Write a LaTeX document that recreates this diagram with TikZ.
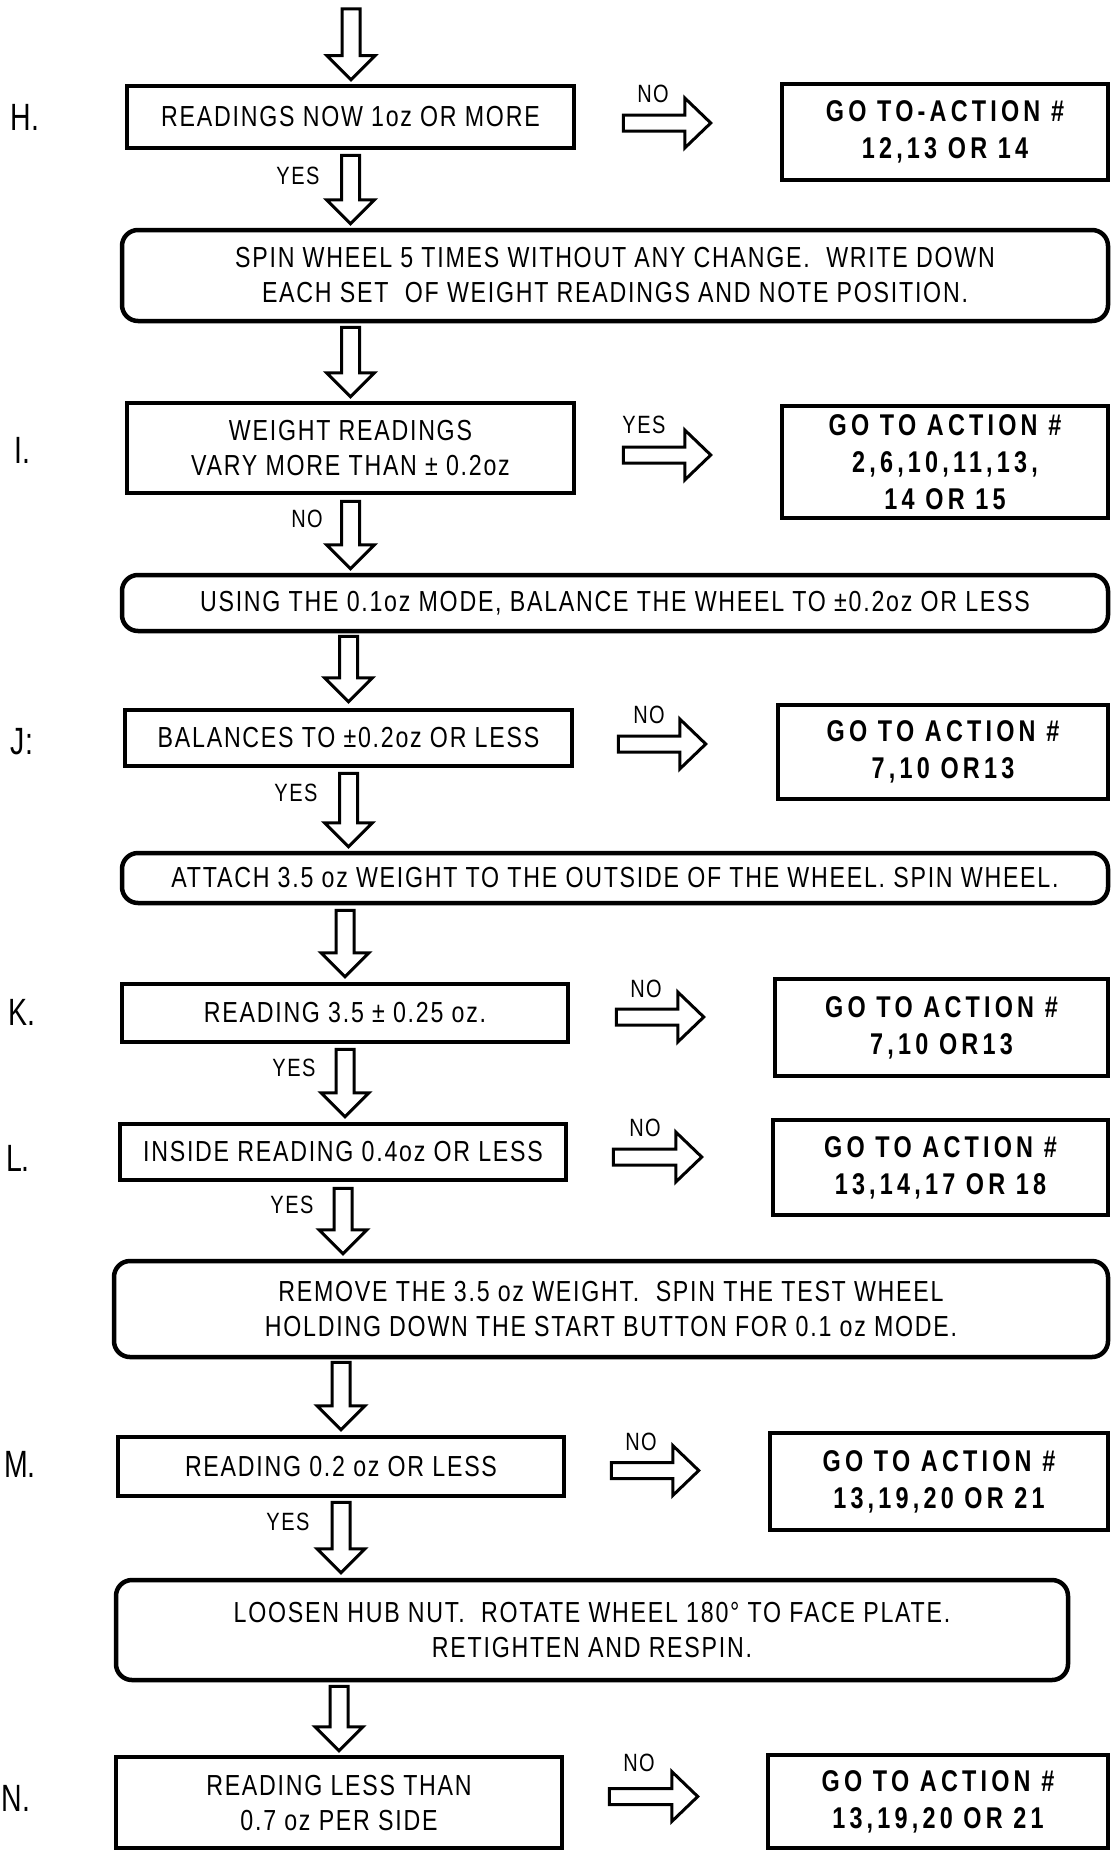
\documentclass[tikz,border=0pt]{standalone}
\usepackage{fontspec}
\setmainfont{Liberation Sans}[FakeStretch=0.8,LetterSpace=6]
\newfontfamily\actfont{Liberation Sans}[FakeStretch=0.78,LetterSpace=14]
\newfontfamily\rowfont{Liberation Sans}[FakeStretch=0.75]
\usetikzlibrary{calc}

\tikzset{
  test/.style={draw,line width=4.5pt,inner sep=0pt,align=center,font=\fontsize{29}{35}\selectfont},
  stepbox/.style={draw,line width=4.5pt,rounded corners=16pt,inner sep=0pt,align=center,font=\fontsize{29}{35}\selectfont},
  actionbox/.style={draw,line width=4.5pt,inner sep=0pt,align=center,font=\actfont\bfseries\fontsize{30}{37}\selectfont},
  answer/.style={font=\fontsize{25}{25}\selectfont},
  rowlabel/.style={font=\rowfont\fontsize{38}{38}\selectfont},
  flowline/.style={line width=3pt,line join=miter}
}

% hollow block arrows: #1 start, #2 end
\newcommand{\downflow}[2]{%
  \draw[flowline] let \p1=(#1), \p2=(#2) in
    (\x1-9pt,\y1) -- (\x1-9pt,\y2+24pt) -- (\x1-24pt,\y2+24pt) -- (\x1,\y2)
    -- (\x1+24pt,\y2+24pt) -- (\x1+9pt,\y2+24pt) -- (\x1+9pt,\y1) -- cycle;}
\newcommand{\rightflow}[2]{%
  \draw[flowline] let \p1=(#1), \p2=(#2) in
    (\x1,\y1+8pt) -- (\x2-26pt,\y1+8pt) -- (\x2-26pt,\y1+25pt) -- (\x2,\y1)
    -- (\x2-26pt,\y1-25pt) -- (\x2-26pt,\y1-8pt) -- (\x1,\y1-8pt) -- cycle;}

\begin{document}
\begin{tikzpicture}[x=1pt,y=-1pt]
\fill[white] (0,0) rectangle (1112,1852);
\useasboundingbox (0,0) rectangle (1112,1852);

\coordinate (entry) at (351,9);

% H
\node[rowlabel] (labH) at (25,117) {H.};
\node[test,minimum width=447pt,minimum height=62pt] (H) at (350.5,117) {READINGS NOW 1oz OR MORE};
\node[actionbox,minimum width=326pt,minimum height=96pt] (Hact) at (945,132) {GO TO-ACTION \#\\12,13 OR 14};
\node[answer] (Hno) at (653,94) {NO};
\node[answer] (Hyes) at (298,176) {YES};
\node[stepbox,minimum width=986pt,minimum height=91pt] (spin) at (615,275.5) {SPIN WHEEL 5 TIMES WITHOUT ANY CHANGE.\ \ WRITE DOWN\\EACH SET\ \ OF WEIGHT READINGS AND NOTE POSITION.};

% I
\node[rowlabel] (labI) at (22,450) {I.};
\node[test,minimum width=447pt,minimum height=90pt] (I) at (350.5,448) {WEIGHT READINGS\\VARY MORE THAN ± 0.2oz};
\node[actionbox,minimum width=326pt,minimum height=112pt] (Iact) at (945,462) {GO TO ACTION \#\\2,6,10,11,13,\\14 OR 15};
\node[answer] (Iyes) at (644,425) {YES};
\node[answer] (Ino) at (307,519) {NO};
\node[stepbox,minimum width=986pt,minimum height=56pt] (using) at (615,603) {USING THE 0.1oz MODE, BALANCE THE WHEEL TO ±0.2oz OR LESS};

% J
\node[rowlabel] (labJ) at (22,742) {J:};
\node[test,minimum width=447pt,minimum height=56pt] (J) at (348.5,738) {BALANCES TO ±0.2oz OR LESS};
\node[actionbox,minimum width=330pt,minimum height=94pt] (Jact) at (943,752) {GO TO ACTION \#\\7,10 OR13};
\node[answer] (Jno) at (649,715) {NO};
\node[answer] (Jyes) at (296,793) {YES};
\node[stepbox,minimum width=986pt,minimum height=50pt] (attach) at (615,878) {ATTACH 3.5 oz WEIGHT TO THE OUTSIDE OF THE WHEEL. SPIN WHEEL.};

% K
\node[rowlabel] (labK) at (22,1012) {K.};
\node[test,minimum width=446pt,minimum height=58pt] (K) at (345,1013) {READING 3.5 ± 0.25 oz.};
\node[actionbox,minimum width=333pt,minimum height=97pt] (Kact) at (941.5,1027.5) {GO TO ACTION \#\\7,10 OR13};
\node[answer] (Kno) at (646,989) {NO};
\node[answer] (Kyes) at (294,1068) {YES};

% L
\node[rowlabel] (labL) at (18,1158) {L.};
\node[test,minimum width=446pt,minimum height=56pt] (L) at (343,1152) {INSIDE READING 0.4oz OR LESS};
\node[actionbox,minimum width=335pt,minimum height=95pt] (Lact) at (940.5,1167.5) {GO TO ACTION \#\\13,14,17 OR 18};
\node[answer] (Lno) at (645,1128) {NO};
\node[answer] (Lyes) at (292,1205) {YES};
\node[stepbox,minimum width=994pt,minimum height=96pt] (remove) at (611,1309) {REMOVE THE 3.5 oz WEIGHT.\ \ SPIN THE TEST WHEEL\\HOLDING DOWN THE START BUTTON FOR 0.1 oz MODE.};

% M
\node[rowlabel] (labM) at (20,1464) {M.};
\node[test,minimum width=446pt,minimum height=59pt] (M) at (341,1466.5) {READING 0.2 oz OR LESS};
\node[actionbox,minimum width=338pt,minimum height=97pt] (Mact) at (939,1481.5) {GO TO ACTION \#\\13,19,20 OR 21};
\node[answer] (Mno) at (641,1442) {NO};
\node[answer] (Myes) at (288,1522) {YES};
\node[stepbox,minimum width=952pt,minimum height=100pt] (loosen) at (592,1630) {LOOSEN HUB NUT.\ \ ROTATE WHEEL 180° TO FACE PLATE.\\RETIGHTEN AND RESPIN.};

% N
\node[rowlabel] (labN) at (16,1798) {N.};
\node[test,minimum width=446pt,minimum height=91pt] (N) at (339,1802.5) {READING LESS THAN\\0.7 oz PER SIDE};
\node[actionbox,minimum width=340pt,minimum height=93pt] (Nact) at (938,1801.5) {GO TO ACTION \#\\13,19,20 OR 21};
\node[answer] (Nno) at (639,1763) {NO};

% down flow
\downflow{entry}{$(H.north)+(0,-4)$}
\downflow{$(H.south)+(0,5)$}{$(H.south |- spin.north)+(0,-4)$}
\downflow{$(spin.south -| I.north)+(0,4)$}{$(I.north)+(0,-4)$}
\downflow{$(I.south)+(0,6)$}{$(I.south |- using.north)+(0,-4)$}
\downflow{$(using.south -| J.north)+(0,3)$}{$(J.north)+(0,-6)$}
\downflow{$(J.south)+(0,5)$}{$(J.south |- attach.north)+(0,-4)$}
\downflow{$(attach.south -| K.north)+(0,5)$}{$(K.north)+(0,-5)$}
\downflow{$(K.south)+(0,5)$}{$(L.north)+(0,-5)$}
\downflow{$(L.south)+(0,6)$}{$(L.south |- remove.north)+(0,-5)$}
\downflow{$(remove.south -| M.north)+(0,3)$}{$(M.north)+(0,-5)$}
\downflow{$(M.south)+(0,4)$}{$(M.south |- loosen.north)+(0,-5)$}
\downflow{$(loosen.south -| N.north)+(0,4)$}{$(N.north)+(0,-4)$}

% side exits
\rightflow{$(H.east)+(47,6)$}{$(Hact.west)+(-69,0)$}
\rightflow{$(I.east)+(47,7)$}{$(Iact.west)+(-69,0)$}
\rightflow{$(J.east)+(44,6)$}{$(Jact.west)+(-70,0)$}
\rightflow{$(K.east)+(46,4)$}{$(Kact.west)+(-69,0)$}
\rightflow{$(L.east)+(45,5)$}{$(Lact.west)+(-69,0)$}
\rightflow{$(M.east)+(45,4)$}{$(Mact.west)+(-69,0)$}
\rightflow{$(N.east)+(45,-6)$}{$(Nact.west)+(-68,0)$}
\end{tikzpicture}
\end{document}
